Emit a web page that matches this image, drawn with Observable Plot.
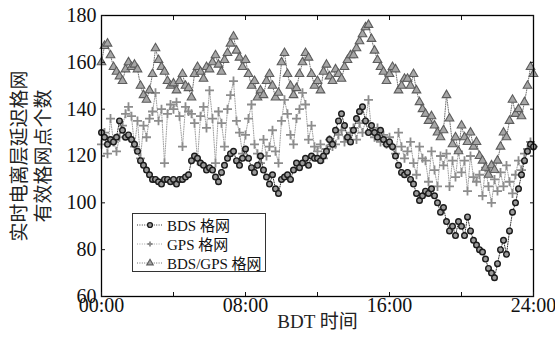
<!DOCTYPE html>
<html>
<head>
<meta charset="utf-8">
<script src="https://cdn.jsdelivr.net/npm/d3@7"></script>
<script src="https://cdn.jsdelivr.net/npm/@observablehq/plot@0.6"></script>
<style>
  body { margin: 0; background: #fff; }
  #wrap { position: relative; width: 555px; height: 346px; }
  #legend {
    position: absolute; left: 132px; top: 213px; width: 134px; height: 59px;
    border: 1px solid #333; background: #fff; box-sizing: border-box;
    font-family: "Liberation Serif", "Times New Roman", "DejaVu Serif", "Noto Sans CJK SC", serif; font-size: 15px; color: #111;
    padding-top: 1px; white-space: nowrap; overflow: visible;
  }
  .row { display: flex; align-items: center; height: 19px; white-space: nowrap; }
  .row svg { margin-left: 3px; margin-right: 4px; flex: none; }
  .row span { white-space: nowrap; flex: none; }
</style>
</head>
<body>
<div id="wrap"><div id="legend"></div></div>
<script>
// Time axis: one sample every 10 minutes, 00:00 .. 24:00 (hours)
const hours = d3.range(145).map(i => i / 6);
const xTicks = [0, 4, 8, 12, 16, 20, 24];
const xLabels = [0, 8, 16, 24];
const yTicks = [60, 80, 100, 120, 140, 160, 180];

// BDS grid
const bdsGrid = [
  130,128,125,127,126,128,
  135,131,128,129,127,125,
  122,118,116,114,112,110,
  110,109,108,110,110,109,
  110,108,110,110,111,112,
  118,120,119,117,116,114,
  115,114,111,109,113,116,
  119,121,122,118,116,119,
  123,119,115,113,116,120,
  114,111,108,112,106,104,
  110,111,112,110,114,117,
  115,117,119,116,120,119,
  119,118,120,122,127,125,
  131,135,138,133,128,126,
  131,136,139,141,135,130,
  133,130,128,131,127,125,
  126,124,120,116,113,112,
  113,110,108,104,101,103,
  105,104,106,103,100,96,
  98,92,88,90,86,92,
  90,86,94,88,84,82,
  80,79,76,72,70,68,
  74,80,84,78,88,96,
  100,106,112,118,122,125,
  124
];
// GPS grid
const gpsGrid = [
  125,130,121,136,126,122,
  128,133,138,141,137,124,
  135,119,133,128,136,139,
  147,135,140,117,138,142,
  140,143,137,124,141,139,
  138,134,118,137,141,132,
  148,136,117,139,134,124,
  140,146,152,135,130,121,
  129,136,142,125,121,117,
  127,120,124,131,122,117,
  135,144,138,129,125,136,
  140,147,142,127,133,124,
  122,125,119,123,127,124,
  125,129,131,126,128,130,
  132,127,134,130,135,144,
  131,128,132,126,129,125,
  128,124,121,130,124,119,
  122,126,117,112,124,119,
  118,109,122,114,107,120,
  116,121,107,118,111,122,
  113,118,105,120,111,109,
  112,103,115,107,100,110,
  105,113,107,116,109,104,
  112,118,114,121,123,126,
  124
];
// BDS/GPS grid
const bdsGpsGrid = [
  160,167,168,163,158,156,
  154,152,157,160,158,159,
  157,150,146,144,148,155,
  166,161,158,156,152,150,
  151,148,152,155,150,149,
  145,155,158,156,153,158,
  157,160,163,159,156,161,
  164,168,171,165,162,158,
  161,155,150,152,145,148,
  146,152,155,150,145,147,
  160,164,155,150,146,149,
  155,160,164,162,155,150,
  152,148,156,159,154,152,
  157,155,153,158,161,163,
  163,166,169,172,175,176,
  170,165,161,158,156,152,
  155,158,157,148,150,153,
  153,150,155,148,143,140,
  138,135,137,133,130,128,
  131,146,136,125,128,122,
  133,128,126,130,124,126,
  120,118,115,112,116,114,
  118,124,130,128,135,144,
  138,140,137,143,150,158,
  155
];
const seriesNames = ["BDS 格网", "GPS 格网", "BDS/GPS 格网"];

const rows = arr => hours.map((t, i) => ({t, v: arr[i]}));
const bds = rows(bdsGrid), gps = rows(gpsGrid), both = rows(bdsGpsGrid);

const serif = '"Liberation Serif", "Times New Roman", "DejaVu Serif", "Noto Sans CJK SC", serif';
const fmt = d => String(d).padStart(2, "0") + ":00";
const dash = "1,1.4";

const sty = {
  gps: {line: "#a0a0a0", fill: "none", stroke: "#8c8c8c", sw: 1.8, symbol: "plus", r: 3.0},
  both: {line: "#707070", fill: "#a6a6a6", stroke: "#5c5c5c", sw: 1.1, symbol: "triangle", r: 3.2},
  bds: {line: "#333", fill: "#9a9a9a", stroke: "#1a1a1a", sw: 1.4, symbol: "circle", r: 2.8}
};

const chart = Plot.plot({
  width: 555, height: 346,
  marginLeft: 101, marginRight: 22, marginTop: 15, marginBottom: 50,
  style: {fontFamily: serif, background: "#fff", color: "#111"},
  x: {domain: [0, 24]},
  y: {domain: [60, 180]},
  marks: [
    Plot.line(gps, {x: "t", y: "v", stroke: sty.gps.line, strokeWidth: 1, strokeDasharray: dash}),
    Plot.dot(gps, {x: "t", y: "v", symbol: sty.gps.symbol, fill: sty.gps.fill, stroke: sty.gps.stroke, strokeWidth: sty.gps.sw, r: sty.gps.r}),
    Plot.line(both, {x: "t", y: "v", stroke: sty.both.line, strokeWidth: 1, strokeDasharray: dash}),
    Plot.dot(both, {x: "t", y: "v", symbol: sty.both.symbol, fill: sty.both.fill, stroke: sty.both.stroke, strokeWidth: sty.both.sw, r: sty.both.r}),
    Plot.line(bds, {x: "t", y: "v", stroke: sty.bds.line, strokeWidth: 1, strokeDasharray: dash}),
    Plot.dot(bds, {x: "t", y: "v", symbol: sty.bds.symbol, fill: sty.bds.fill, stroke: sty.bds.stroke, strokeWidth: sty.bds.sw, r: sty.bds.r}),
    Plot.frame({stroke: "#000", strokeWidth: 1.3}),
    Plot.axisX({ticks: xLabels, tickSize: 0, tickPadding: 1, tickFormat: fmt, fontSize: 20, fontFamily: serif, label: null}),
    Plot.axisX({ticks: xTicks, tickSize: -4, tickFormat: () => "", label: null}),
    Plot.axisX({anchor: "top", ticks: xTicks, tickSize: -4, tickFormat: () => "", label: null}),
    Plot.axisY({ticks: yTicks, tickSize: 0, tickPadding: 5, fontSize: 20, fontFamily: serif, label: null}),
    Plot.axisY({ticks: yTicks, tickSize: -4, tickFormat: () => "", label: null}),
    Plot.axisY({anchor: "right", ticks: yTicks, tickSize: -4, tickFormat: () => "", label: null}),
    Plot.text(["实时电离层延迟格网\n有效格网点个数"], {frameAnchor: "left", dx: -71, rotate: -90, fontSize: 19, lineHeight: 1.25, lineAnchor: "middle", textAnchor: "middle", fontFamily: "'Noto Sans CJK SC', sans-serif", fill: "#222"}),
    Plot.text(["BDT 时间"], {frameAnchor: "bottom", dy: 31, fontSize: 19, fontFamily: serif, fill: "#222"})
  ]
});
document.getElementById("wrap").prepend(chart);

// Legend
const legend = document.getElementById("legend");
const keys = [sty.bds, sty.gps, sty.both];
keys.forEach((s, i) => {
  const row = document.createElement("div");
  row.className = "row";
  const ns = "http://www.w3.org/2000/svg";
  const svg = document.createElementNS(ns, "svg");
  svg.setAttribute("width", 27); svg.setAttribute("height", 12);
  const ln = document.createElementNS(ns, "line");
  ln.setAttribute("x1", 1); ln.setAttribute("x2", 26); ln.setAttribute("y1", 6); ln.setAttribute("y2", 6);
  ln.setAttribute("stroke", s.line); ln.setAttribute("stroke-dasharray", dash);
  svg.appendChild(ln);
  const sym = {circle: d3.symbolCircle, plus: d3.symbolPlus, triangle: d3.symbolTriangle}[s.symbol];
  const p = document.createElementNS(ns, "path");
  if (s.symbol === "plus") {
    p.setAttribute("d", "M-2.6,0H2.6M0,-2.6V2.6");
  } else {
    p.setAttribute("d", d3.symbol(sym, Math.PI * 2.4 * 2.4)());
  }
  p.setAttribute("transform", "translate(14,6)");
  p.setAttribute("fill", s.fill); p.setAttribute("stroke", s.stroke);
  p.setAttribute("stroke-width", s.sw);
  svg.appendChild(p);
  row.appendChild(svg);
  const tx = document.createElement("span");
  tx.textContent = seriesNames[i];
  row.appendChild(tx);
  legend.appendChild(row);
});
</script>
</body>
</html>
